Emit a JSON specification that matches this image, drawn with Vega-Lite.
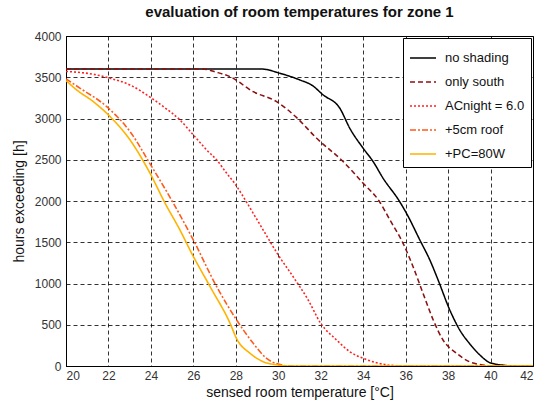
{
  "$schema": "https://vega.github.io/schema/vega-lite/v6.json",
  "width": 467,
  "height": 330,
  "autosize": {"type": "none"},
  "padding": {"left": 66, "top": 36, "right": 7, "bottom": 46},
  "background": "white",
  "title": {"text": "evaluation of room temperatures for zone 1", "font": "Liberation Sans", "fontSize": 15, "fontWeight": "bold", "color": "#111", "offset": 10, "anchor": "middle"},
  "config": {
    "view": {"stroke": "#000", "strokeWidth": 1},
    "axis": {"labelFont": "Liberation Sans", "titleFont": "Liberation Sans", "labelFontSize": 12, "titleFontSize": 14, "titleFontWeight": "normal", "labelColor": "#333", "titleColor": "#111", "grid": true, "gridColor": "#000", "gridDash": [4, 3], "gridOpacity": 0.8, "gridWidth": 1, "domainColor": "#000", "ticks": false}
  },
  "data": {"values": [
    {"s": "no shading", "T": 20, "h": 3600},
    {"s": "no shading", "T": 29.2, "h": 3600},
    {"s": "no shading", "T": 30.08, "h": 3548},
    {"s": "no shading", "T": 31.02, "h": 3467},
    {"s": "no shading", "T": 31.57, "h": 3406},
    {"s": "no shading", "T": 32.12, "h": 3285},
    {"s": "no shading", "T": 32.9, "h": 3124},
    {"s": "no shading", "T": 33.37, "h": 2881},
    {"s": "no shading", "T": 34.0, "h": 2639},
    {"s": "no shading", "T": 34.47, "h": 2477},
    {"s": "no shading", "T": 34.94, "h": 2275},
    {"s": "no shading", "T": 35.7, "h": 2000},
    {"s": "no shading", "T": 36.04, "h": 1851},
    {"s": "no shading", "T": 36.67, "h": 1527},
    {"s": "no shading", "T": 37.14, "h": 1285},
    {"s": "no shading", "T": 37.53, "h": 1042},
    {"s": "no shading", "T": 38.08, "h": 679},
    {"s": "no shading", "T": 38.55, "h": 436},
    {"s": "no shading", "T": 39.0, "h": 275},
    {"s": "no shading", "T": 39.5, "h": 133},
    {"s": "no shading", "T": 39.97, "h": 40},
    {"s": "no shading", "T": 40.6, "h": 10},
    {"s": "no shading", "T": 41.2, "h": 0},
    {"s": "no shading", "T": 42, "h": 0},
    {"s": "only south", "T": 20, "h": 3600},
    {"s": "only south", "T": 26.4, "h": 3600},
    {"s": "only south", "T": 27.1, "h": 3560},
    {"s": "only south", "T": 27.73, "h": 3507},
    {"s": "only south", "T": 28.82, "h": 3325},
    {"s": "only south", "T": 29.92, "h": 3204},
    {"s": "only south", "T": 30.87, "h": 3010},
    {"s": "only south", "T": 31.81, "h": 2760},
    {"s": "only south", "T": 33.06, "h": 2477},
    {"s": "only south", "T": 34.0, "h": 2215},
    {"s": "only south", "T": 34.75, "h": 2000},
    {"s": "only south", "T": 35.26, "h": 1770},
    {"s": "only south", "T": 35.88, "h": 1487},
    {"s": "only south", "T": 36.35, "h": 1204},
    {"s": "only south", "T": 36.82, "h": 881},
    {"s": "only south", "T": 37.3, "h": 558},
    {"s": "only south", "T": 37.76, "h": 315},
    {"s": "only south", "T": 38.4, "h": 154},
    {"s": "only south", "T": 39.0, "h": 52},
    {"s": "only south", "T": 39.45, "h": 20},
    {"s": "only south", "T": 40.2, "h": 0},
    {"s": "only south", "T": 42, "h": 0},
    {"s": "ACnight = 6.0", "T": 20, "h": 3570},
    {"s": "ACnight = 6.0", "T": 21.29, "h": 3536},
    {"s": "ACnight = 6.0", "T": 22.08, "h": 3487},
    {"s": "ACnight = 6.0", "T": 23.02, "h": 3406},
    {"s": "ACnight = 6.0", "T": 24.04, "h": 3245},
    {"s": "ACnight = 6.0", "T": 24.59, "h": 3143},
    {"s": "ACnight = 6.0", "T": 25.37, "h": 2982},
    {"s": "ACnight = 6.0", "T": 26.0, "h": 2800},
    {"s": "ACnight = 6.0", "T": 26.63, "h": 2618},
    {"s": "ACnight = 6.0", "T": 27.1, "h": 2497},
    {"s": "ACnight = 6.0", "T": 27.57, "h": 2336},
    {"s": "ACnight = 6.0", "T": 28.0, "h": 2194},
    {"s": "ACnight = 6.0", "T": 28.35, "h": 2052},
    {"s": "ACnight = 6.0", "T": 28.82, "h": 1851},
    {"s": "ACnight = 6.0", "T": 29.29, "h": 1648},
    {"s": "ACnight = 6.0", "T": 30.0, "h": 1345},
    {"s": "ACnight = 6.0", "T": 30.7, "h": 1082},
    {"s": "ACnight = 6.0", "T": 31.41, "h": 800},
    {"s": "ACnight = 6.0", "T": 32.0, "h": 517},
    {"s": "ACnight = 6.0", "T": 32.75, "h": 315},
    {"s": "ACnight = 6.0", "T": 33.37, "h": 173},
    {"s": "ACnight = 6.0", "T": 34.0, "h": 93},
    {"s": "ACnight = 6.0", "T": 34.63, "h": 40},
    {"s": "ACnight = 6.0", "T": 35.25, "h": 10},
    {"s": "ACnight = 6.0", "T": 36.0, "h": 0},
    {"s": "ACnight = 6.0", "T": 42, "h": 0},
    {"s": "+5cm roof", "T": 20, "h": 3480},
    {"s": "+5cm roof", "T": 20.67, "h": 3366},
    {"s": "+5cm roof", "T": 21.92, "h": 3143},
    {"s": "+5cm roof", "T": 23.02, "h": 2840},
    {"s": "+5cm roof", "T": 24.04, "h": 2416},
    {"s": "+5cm roof", "T": 25.06, "h": 1972},
    {"s": "+5cm roof", "T": 26.0, "h": 1527},
    {"s": "+5cm roof", "T": 27.1, "h": 961},
    {"s": "+5cm roof", "T": 28.04, "h": 557},
    {"s": "+5cm roof", "T": 28.82, "h": 275},
    {"s": "+5cm roof", "T": 29.45, "h": 93},
    {"s": "+5cm roof", "T": 29.9, "h": 30},
    {"s": "+5cm roof", "T": 30.6, "h": 0},
    {"s": "+5cm roof", "T": 42, "h": 0},
    {"s": "+PC=80W", "T": 20, "h": 3460},
    {"s": "+PC=80W", "T": 20.51, "h": 3345},
    {"s": "+PC=80W", "T": 21.29, "h": 3204},
    {"s": "+PC=80W", "T": 22.08, "h": 3022},
    {"s": "+PC=80W", "T": 23.02, "h": 2739},
    {"s": "+PC=80W", "T": 23.96, "h": 2336},
    {"s": "+PC=80W", "T": 24.67, "h": 1972},
    {"s": "+PC=80W", "T": 25.37, "h": 1648},
    {"s": "+PC=80W", "T": 25.92, "h": 1366},
    {"s": "+PC=80W", "T": 26.79, "h": 961},
    {"s": "+PC=80W", "T": 27.73, "h": 517},
    {"s": "+PC=80W", "T": 28.04, "h": 330},
    {"s": "+PC=80W", "T": 28.67, "h": 154},
    {"s": "+PC=80W", "T": 29.29, "h": 52},
    {"s": "+PC=80W", "T": 29.9, "h": 15},
    {"s": "+PC=80W", "T": 30.6, "h": 0},
    {"s": "+PC=80W", "T": 42, "h": 0}
  ]},
  "mark": {"type": "line", "clip": true, "interpolate": "monotone"},
  "encoding": {
    "x": {"field": "T", "type": "quantitative", "scale": {"domain": [20, 42], "nice": false, "zero": false}, "axis": {"values": [20, 22, 24, 26, 28, 30, 32, 34, 36, 38, 40, 42], "format": "d", "title": "sensed room temperature [°C]", "labelPadding": 4, "titlePadding": 4}},
    "y": {"field": "h", "type": "quantitative", "scale": {"domain": [0, 4000], "nice": false}, "axis": {"values": [0, 500, 1000, 1500, 2000, 2500, 3000, 3500, 4000], "format": "d", "title": "hours exceeding [h]", "labelPadding": 5, "titlePadding": 8}},
    "color": {"field": "s", "type": "nominal", "scale": {"domain": ["no shading", "only south", "ACnight = 6.0", "+5cm roof", "+PC=80W"], "range": ["#000000", "#8b1010", "#ff2020", "#ff5a1a", "#ffb300"]}, "legend": {"title": null, "orient": "top-right", "offset": 2, "symbolType": "stroke", "symbolSize": 676, "symbolStrokeWidth": 3, "labelFont": "Liberation Sans", "labelFontSize": 13, "labelColor": "#111", "strokeColor": "#000", "fillColor": "white", "padding": 6, "rowPadding": 3, "labelOffset": 8}},
    "strokeDash": {"field": "s", "type": "nominal", "scale": {"domain": ["no shading", "only south", "ACnight = 6.0", "+5cm roof", "+PC=80W"], "range": [[1, 0], [5, 3], [2, 2], [6, 2, 2, 2], [1, 0]]}},
    "strokeWidth": {"field": "s", "type": "nominal", "scale": {"domain": ["no shading", "only south", "ACnight = 6.0", "+5cm roof", "+PC=80W"], "range": [1.5, 1.6, 2, 2, 2.5]}, "legend": null}
  }
}
